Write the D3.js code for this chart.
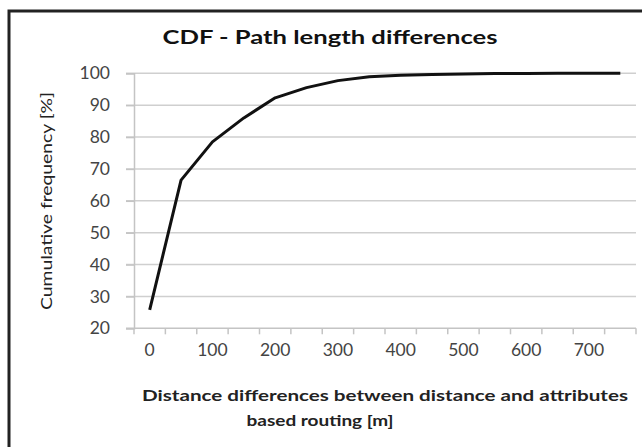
<!DOCTYPE html>
<html>
<head>
<meta charset="utf-8">
<script src="https://cdn.jsdelivr.net/npm/d3@7"></script>
<style>
  body { margin: 0; background: #fff; }
  text { font-family: Lato, "Open Sans", sans-serif; }
</style>
</head>
<body>
<div id="container"></div>
<script>
var width = 642,
    height = 447;

// distance difference categories [m]
var categories = [0, 50, 100, 150, 200, 250, 300, 350, 400, 450, 500, 550, 600, 650, 700, 750];
// cumulative frequency [%]
var cdfValues = [25.8, 66.5, 78.5, 86, 92.3, 95.5, 97.7, 98.9, 99.4, 99.6, 99.8, 99.9, 99.9, 100, 100, 100];
var yTicks = [20, 30, 40, 50, 60, 70, 80, 90, 100];
var xLabels = [0, 100, 200, 300, 400, 500, 600, 700];

var svg = d3.select("#container").append("svg")
  .attr("width", width)
  .attr("height", height);

// outer frame (cut off at right and bottom)
svg.append("rect")
  .attr("x", 9).attr("y", 11)
  .attr("width", 700).attr("height", 500)
  .attr("fill", "none")
  .attr("stroke", "#222")
  .attr("stroke-width", 3);

// plot area edges
var plotLeft = 134, plotRight = 636, plotTop = 73.3, plotBottom = 328.3;

var x = d3.scaleBand()
  .domain(categories)
  .range([plotLeft, plotRight]);

var y = d3.scaleLinear()
  .domain([20, 100])
  .range([plotBottom, plotTop]);

// gridlines
svg.append("g")
  .selectAll("line")
  .data(yTicks.slice(1))
  .enter().append("line")
  .attr("x1", plotLeft - 8)
  .attr("x2", plotRight)
  .attr("y1", function(d) { return y(d); })
  .attr("y2", function(d) { return y(d); })
  .attr("stroke", "#cfcfcf")
  .attr("stroke-width", 1.5);

// y axis
var yAxis = svg.append("g")
  .attr("transform", "translate(" + plotLeft + ",0)")
  .call(d3.axisLeft(y).tickValues(yTicks).tickSize(8).tickPadding(16));
yAxis.select(".domain").attr("stroke", "#c4c4c4").attr("stroke-width", 1.5);
yAxis.selectAll(".tick line").attr("stroke", "#c4c4c4").attr("stroke-width", 1.5);
yAxis.selectAll(".tick text")
  .attr("fill", "#444")
  .style("font-size", "17.5px")
  .style("font-family", "Lato, sans-serif");

// x axis: ticks on category boundaries, labels every other category
var bounds = categories.map(function(d) { return x(d); }).concat([plotRight]);
var xg = svg.append("g");
xg.append("line")
  .attr("x1", plotLeft - 8).attr("x2", plotRight)
  .attr("y1", plotBottom).attr("y2", plotBottom)
  .attr("stroke", "#c4c4c4").attr("stroke-width", 1.5);
xg.selectAll(".xt")
  .data(bounds)
  .enter().append("line")
  .attr("class", "xt")
  .attr("x1", function(d) { return d; })
  .attr("x2", function(d) { return d; })
  .attr("y1", plotBottom)
  .attr("y2", plotBottom + 6)
  .attr("stroke", "#c4c4c4").attr("stroke-width", 1.5);
xg.selectAll(".xl")
  .data(xLabels)
  .enter().append("text")
  .attr("class", "xl")
  .attr("x", function(d) { return x(d) + x.bandwidth() / 2; })
  .attr("y", 356)
  .attr("text-anchor", "middle")
  .attr("fill", "#444")
  .style("font-size", "17.5px")
  .text(function(d) { return d; });

// the CDF line
var line = d3.line()
  .x(function(d, i) { return x(categories[i]) + x.bandwidth() / 2; })
  .y(function(d) { return y(d); });

svg.append("path")
  .datum(cdfValues)
  .attr("d", line)
  .attr("fill", "none")
  .attr("stroke", "#111")
  .attr("stroke-width", 3)
  .attr("stroke-linejoin", "round");

// title
svg.append("text")
  .attr("x", 330).attr("y", 44)
  .attr("text-anchor", "middle")
  .attr("font-weight", "bold")
  .attr("fill", "#111")
  .style("font-size", "19px")
  .attr("textLength", 335)
  .attr("lengthAdjust", "spacingAndGlyphs")
  .text("CDF - Path length differences");

// y axis title
svg.append("text")
  .attr("transform", "translate(52,201) rotate(-90)")
  .attr("text-anchor", "middle")
  .attr("fill", "#222")
  .style("font-size", "15px")
  .attr("textLength", 218)
  .attr("lengthAdjust", "spacingAndGlyphs")
  .text("Cumulative frequency [%]");

// x axis title
svg.append("text")
  .attr("x", 385).attr("y", 401)
  .attr("text-anchor", "middle")
  .attr("font-weight", "bold")
  .attr("fill", "#222")
  .style("font-size", "15px")
  .attr("textLength", 486)
  .attr("lengthAdjust", "spacingAndGlyphs")
  .text("Distance differences between distance and attributes");

svg.append("text")
  .attr("x", 320).attr("y", 426)
  .attr("text-anchor", "middle")
  .attr("font-weight", "bold")
  .attr("fill", "#222")
  .style("font-size", "15px")
  .attr("textLength", 147)
  .attr("lengthAdjust", "spacingAndGlyphs")
  .text("based routing  [m]");
</script>
</body>
</html>
